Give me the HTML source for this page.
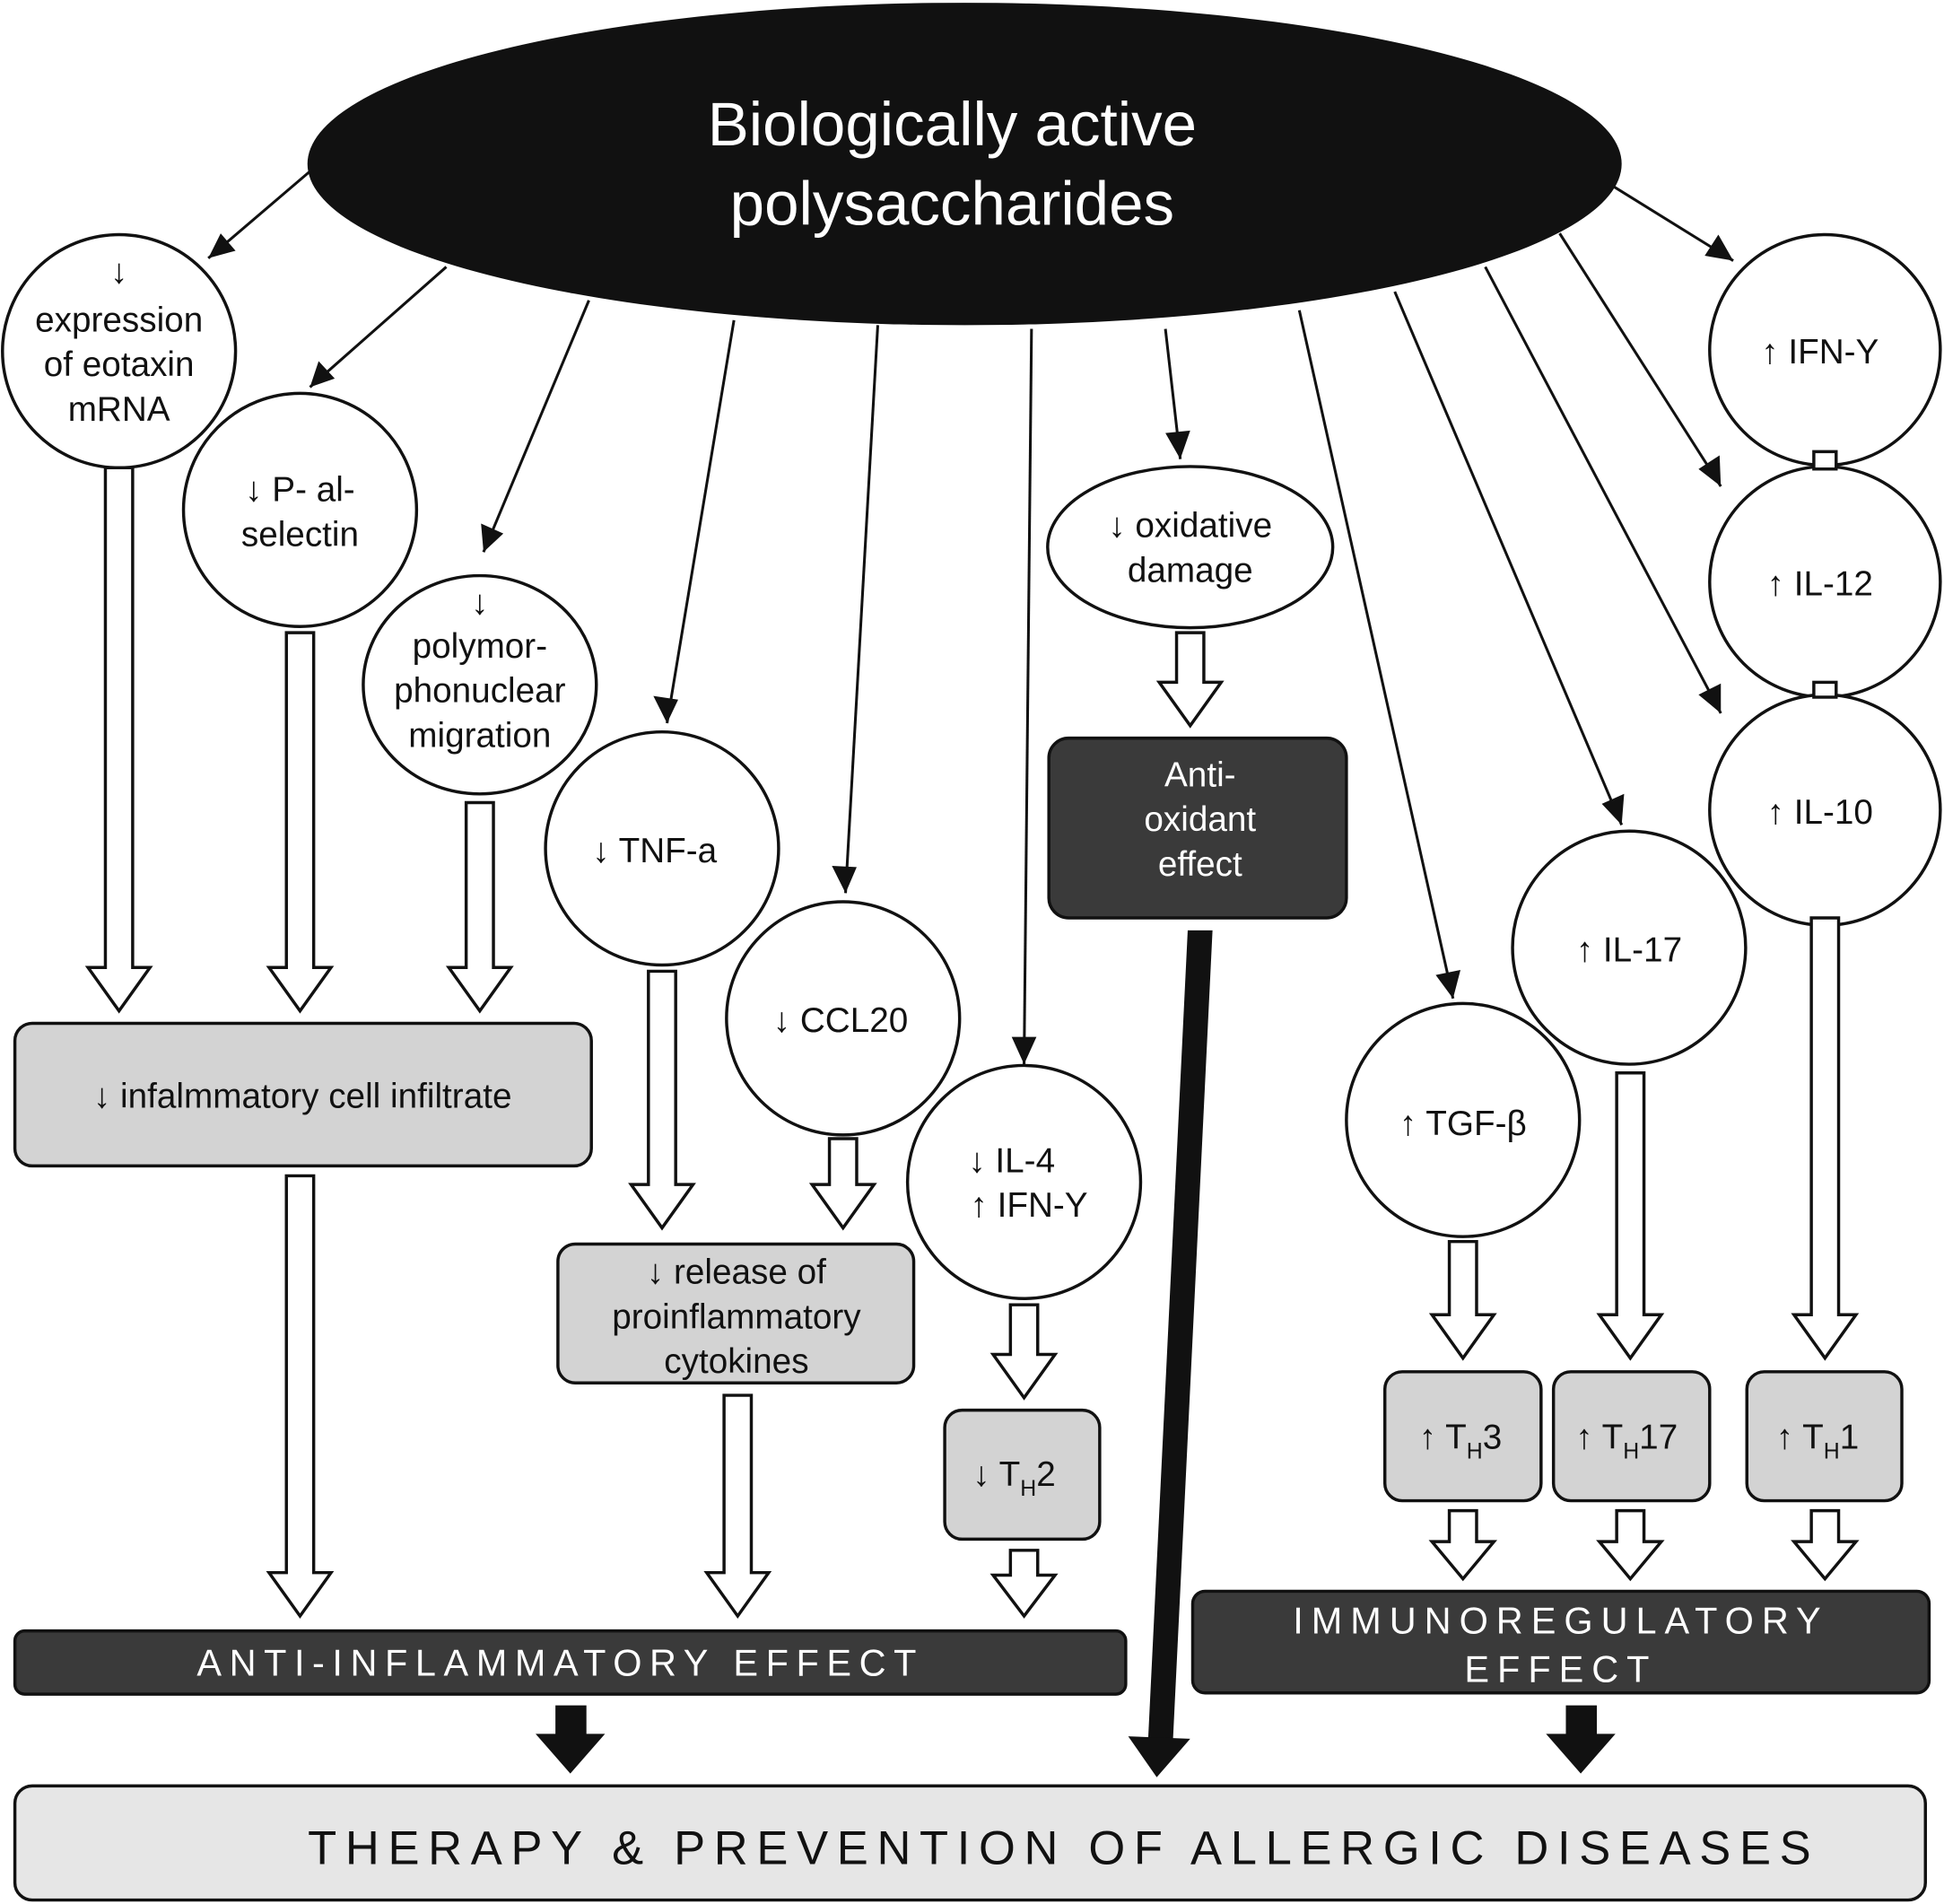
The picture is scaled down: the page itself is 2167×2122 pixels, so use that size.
<!DOCTYPE html>
<html><head><meta charset="utf-8"><style>
html,body{margin:0;padding:0;background:#fff}
svg{display:block}
text{font-family:"Liberation Sans",sans-serif;fill:#111}
</style></head><body>
<svg width="2167" height="2122" viewBox="0 0 1568 1535" xmlns="http://www.w3.org/2000/svg">
<g stroke="#111" stroke-width="2.2" fill="none">
<line x1="250" y1="138" x2="168" y2="208"/>
<line x1="360" y1="215" x2="250" y2="312"/>
<line x1="475" y1="242" x2="390" y2="445"/>
<line x1="592" y1="258" x2="538" y2="583"/>
<line x1="708" y1="262" x2="682" y2="720"/>
<line x1="832" y1="265" x2="826" y2="858"/>
<line x1="940" y1="265" x2="952" y2="370"/>
<line x1="1048" y1="250" x2="1172" y2="805"/>
<line x1="1125" y1="235" x2="1308" y2="665"/>
<line x1="1198" y1="215" x2="1388" y2="575"/>
<line x1="1258" y1="188" x2="1388" y2="392"/>
<line x1="1285" y1="140" x2="1398" y2="210"/>
</g>
<g fill="#111">
<polygon points="168,208 178,188 190,202"/>
<polygon points="250,312 257,291 270,305"/>
<polygon points="390,445 388,422 406,430"/>
<polygon points="538,583 527,561 547,564"/>
<polygon points="682,720 671,698 691,699"/>
<polygon points="826,858 816,836 836,836"/>
<polygon points="952,370 940,349 960,347"/>
<polygon points="1172,805 1158,786 1178,782"/>
<polygon points="1308,665 1292,648 1310,640"/>
<polygon points="1388,575 1370,560 1388,551"/>
<polygon points="1388,392 1370,378 1387,367"/>
<polygon points="1398,210 1375,206 1386,189"/>
</g>
<ellipse cx="778" cy="132" rx="530" ry="130" fill="#111"/>
<text x="768" y="117" font-size="50" text-anchor="middle" style="fill:#fff">Biologically active</text>
<text x="768" y="181" font-size="50" text-anchor="middle" style="fill:#fff">polysaccharides</text>

<g fill="#fff" stroke="#111" stroke-width="2.5">
<circle cx="96" cy="283" r="94"/>
<circle cx="242" cy="411" r="94"/>
<ellipse cx="387" cy="552" rx="94" ry="88"/>
<circle cx="534" cy="684" r="94"/>
<circle cx="680" cy="821" r="94"/>
<circle cx="826" cy="953" r="94"/>
<ellipse cx="960" cy="441" rx="115" ry="65"/>
<circle cx="1180" cy="903" r="94"/>
<circle cx="1314" cy="764" r="94"/>
<circle cx="1472" cy="282" r="93"/>
<circle cx="1472" cy="469" r="93"/>
<circle cx="1472" cy="653" r="93"/>
<rect x="1463" y="364" width="18" height="14"/>
<rect x="1463" y="550" width="18" height="12"/>
</g>
<g fill="#d3d3d3" stroke="#111" stroke-width="2.5">
<rect x="12" y="825" width="465" height="115" rx="14"/>
<rect x="450" y="1003" width="287" height="112" rx="14"/>
<rect x="762" y="1137" width="125" height="104" rx="14"/>
<rect x="1117" y="1106" width="126" height="104" rx="14"/>
<rect x="1253" y="1106" width="126" height="104" rx="14"/>
<rect x="1409" y="1106" width="125" height="104" rx="14"/>
<rect x="12" y="1440" width="1541" height="92" rx="14" fill="#e6e6e6"/>
</g>
<g fill="#3a3a3a" stroke="#111" stroke-width="2.5">
<rect x="846" y="595" width="240" height="145" rx="16"/>
<rect x="12" y="1315" width="896" height="51" rx="8"/>
<rect x="962" y="1283" width="594" height="82" rx="10"/>
</g>

<g fill="#fff" stroke="#111" stroke-width="2.5" stroke-linejoin="miter">
<path d="M85 377 L107 377 L107 780 L121 780 L96 815 L71 780 L85 780 Z"/>
<path d="M231 510 L253 510 L253 780 L267 780 L242 815 L217 780 L231 780 Z"/>
<path d="M376 647 L398 647 L398 780 L412 780 L387 815 L362 780 L376 780 Z"/>
<path d="M523 783 L545 783 L545 955 L559 955 L534 990 L509 955 L523 955 Z"/>
<path d="M669 918 L691 918 L691 955 L705 955 L680 990 L655 955 L669 955 Z"/>
<path d="M815 1052 L837 1052 L837 1092 L851 1092 L826 1127 L801 1092 L815 1092 Z"/>
<path d="M949 510 L971 510 L971 550 L985 550 L960 585 L935 550 L949 550 Z"/>
<path d="M231 948 L253 948 L253 1268 L267 1268 L242 1303 L217 1268 L231 1268 Z"/>
<path d="M584 1125 L606 1125 L606 1268 L620 1268 L595 1303 L570 1268 L584 1268 Z"/>
<path d="M815 1250 L837 1250 L837 1270 L851 1270 L826 1303 L801 1270 L815 1270 Z"/>
<path d="M1169 1001 L1191 1001 L1191 1060 L1205 1060 L1180 1095 L1155 1060 L1169 1060 Z"/>
<path d="M1304 865 L1326 865 L1326 1060 L1340 1060 L1315 1095 L1290 1060 L1304 1060 Z"/>
<path d="M1461 740 L1483 740 L1483 1060 L1497 1060 L1472 1095 L1447 1060 L1461 1060 Z"/>
<path d="M1169 1218 L1191 1218 L1191 1243 L1205 1243 L1180 1273 L1155 1243 L1169 1243 Z"/>
<path d="M1304 1218 L1326 1218 L1326 1243 L1340 1243 L1315 1273 L1290 1243 L1304 1243 Z"/>
<path d="M1461 1218 L1483 1218 L1483 1243 L1497 1243 L1472 1273 L1447 1243 L1461 1243 Z"/>
</g>
<g fill="#111">
<path d="M448 1375 L473 1375 L473 1398 L488 1398 L460 1430 L432 1398 L448 1398 Z"/>
<path d="M1263 1375 L1288 1375 L1288 1398 L1303 1398 L1275 1430 L1247 1398 L1263 1398 Z"/>
<polygon points="958,750 978,750 946,1405 926,1404"/>
<polygon points="910,1400 960,1402 933,1433"/>
</g>

<g font-size="28" text-anchor="middle">
<text x="96" y="228">↓</text>
<text x="96" y="267">expression</text>
<text x="96" y="303">of eotaxin</text>
<text x="96" y="339">mRNA</text>
<text x="242" y="404">↓ P- al-</text>
<text x="242" y="440">selectin</text>
<text x="387" y="495">↓</text>
<text x="387" y="530">polymor-</text>
<text x="387" y="566">phonuclear</text>
<text x="387" y="602">migration</text>
<text x="528" y="695">↓ TNF-a</text>
<text x="678" y="832">↓ CCL20</text>
<text x="816" y="945">↓ IL-4</text>
<text x="830" y="981">↑ IFN-Y</text>
<text x="960" y="433">↓ oxidative</text>
<text x="960" y="469">damage</text>
<text x="1180" y="915">↑ TGF-β</text>
<text x="1314" y="775">↑ IL-17</text>
<text x="1468" y="293">↑ IFN-Y</text>
<text x="1468" y="480">↑ IL-12</text>
<text x="1468" y="664">↑ IL-10</text>
<text x="244" y="893">↓ infalmmatory cell infiltrate</text>
<text x="594" y="1035">↓ release of</text>
<text x="594" y="1071">proinflammatory</text>
<text x="594" y="1107">cytokines</text>
<text x="818" y="1198">↓ T<tspan font-size="18" dy="8">H</tspan><tspan dy="-8">2</tspan></text>
<text x="1178" y="1168">↑ T<tspan font-size="18" dy="8">H</tspan><tspan dy="-8">3</tspan></text>
<text x="1312" y="1168">↑ T<tspan font-size="18" dy="8">H</tspan><tspan dy="-8">17</tspan></text>
<text x="1466" y="1168">↑ T<tspan font-size="18" dy="8">H</tspan><tspan dy="-8">1</tspan></text>
<text x="968" y="634" style="fill:#fff">Anti-</text>
<text x="968" y="670" style="fill:#fff">oxidant</text>
<text x="968" y="706" style="fill:#fff">effect</text>
</g>
<text x="452" y="1351" font-size="30" text-anchor="middle" letter-spacing="6.2" style="fill:#fff">ANTI-INFLAMMATORY EFFECT</text>
<text x="1259" y="1317" font-size="30" text-anchor="middle" letter-spacing="6.5" style="fill:#fff">IMMUNOREGULATORY</text>
<text x="1259" y="1356" font-size="30" text-anchor="middle" letter-spacing="6.5" style="fill:#fff">EFFECT</text>
<text x="858" y="1503" font-size="38" text-anchor="middle" letter-spacing="7">THERAPY &amp; PREVENTION OF ALLERGIC DISEASES</text>
</svg>
</body></html>
